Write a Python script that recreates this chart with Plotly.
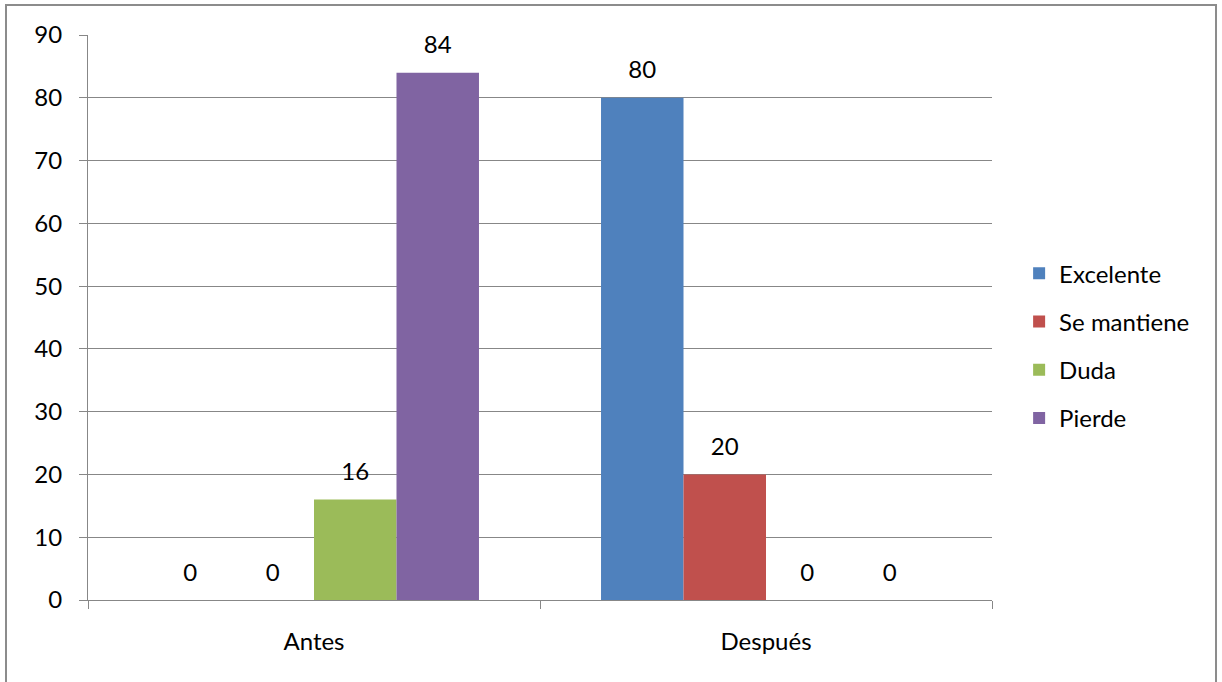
import plotly.graph_objects as go

categories = ["Antes", "Después"]
series_names = ["Excelente", "Se mantiene", "Duda", "Pierde"]
excelente = [0, 80]
se_mantiene = [0, 20]
duda = [16, 0]
pierde = [84, 0]
y_ticks = [0, 10, 20, 30, 40, 50, 60, 70, 80, 90]

series_values = [excelente, se_mantiene, duda, pierde]
colors = ["#4F81BD", "#C0504D", "#9BBB59", "#8064A2"]
FONT = "Lato, Carlito, Calibri, sans-serif"
FS = 24

fig = go.Figure()
for name, vals, col in zip(series_names, series_values, colors):
    fig.add_trace(go.Bar(
        x=categories, y=vals, name=name, marker_color=col,
        marker_line_width=0, offsetgroup=name, legendgroup=name,
    ))
for name, vals in zip(series_names, series_values):
    fig.add_trace(go.Scatter(
        x=categories, y=vals, mode="markers+text", offsetgroup=name,
        legendgroup=name,
        text=[str(v) for v in vals], textposition="top center",
        textfont=dict(family=FONT, size=FS, color="black"),
        marker=dict(size=20, opacity=0), showlegend=False, hoverinfo="skip",
        cliponaxis=False,
    ))

fig.update_layout(
    width=1222, height=682,
    margin=dict(l=88, r=230, t=35, b=82),
    paper_bgcolor="white", plot_bgcolor="white",
    barmode="group", bargap=0.27, bargroupgap=0,
    scattermode="group", scattergap=0.27,
    font=dict(family=FONT, size=FS, color="black"),
    legend=dict(x=1.030, y=0.45, xanchor="left", yanchor="middle",
                font=dict(family=FONT, size=FS), tracegroupgap=14,
                itemsizing="constant", traceorder="grouped"),
    showlegend=True,
    shapes=[dict(type="rect", xref="paper", yref="paper",
                 x0=-0.0907, x1=1.2478, y0=-0.2, y1=1.053,
                 line=dict(color="#8C8C8C", width=2), layer="below")],
)
fig.update_yaxes(
    range=[0, 90], tickvals=y_ticks, showgrid=True, gridcolor="#878787", gridwidth=1,
    showline=True, linecolor="#878787", linewidth=1,
    ticks="outside", ticklen=8, tickcolor="#878787",
    ticklabelstandoff=12, zeroline=False,
    tickfont=dict(family=FONT, size=FS),
)
fig.update_xaxes(
    showline=True, linecolor="#878787", linewidth=1,
    ticks="outside", ticklen=8, tickcolor="#878787", tickson="boundaries",
    ticklabelstandoff=20, showgrid=False,
    tickfont=dict(family=FONT, size=FS),
)
fig.write_html("out.html")
